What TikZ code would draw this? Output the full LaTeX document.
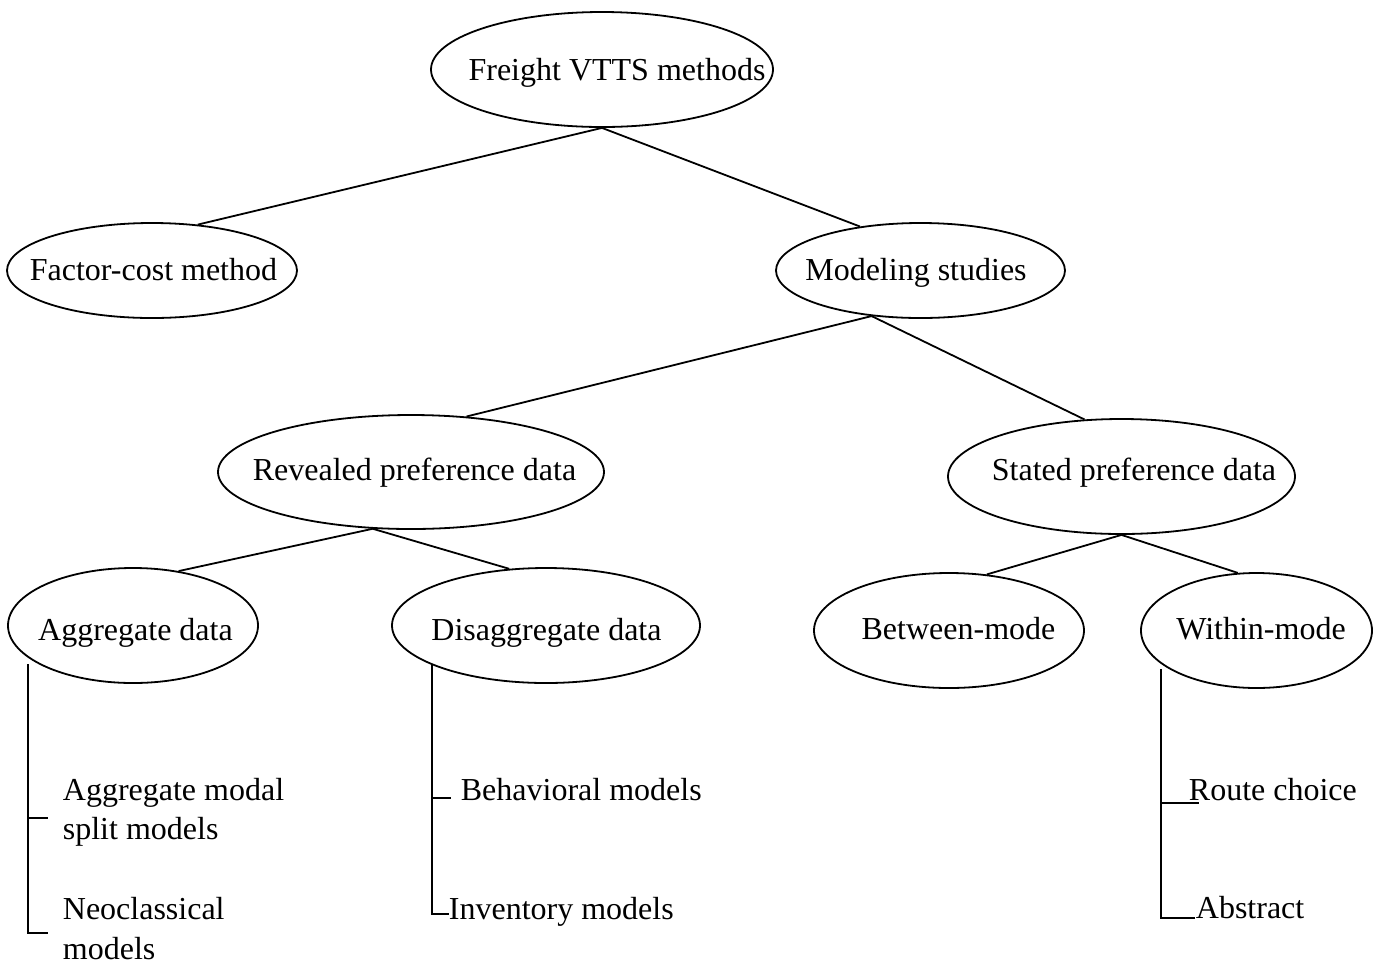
\documentclass[tikz,border=0pt]{standalone}
\usepackage{fontspec}
\setmainfont{Liberation Serif}
\usetikzlibrary{shapes.geometric}
\begin{document}
\begin{tikzpicture}[
  x=0.5pt, y=-0.5pt, line width=0.9pt,
  every node/.style={font=\fontsize{16}{19.75}\selectfont, inner sep=0pt},
  oval/.style={draw, ellipse},
  txt/.style={anchor=base},
  leaf/.style={anchor=base west, align=left}
]
\useasboundingbox (0,0) rectangle (1378,966);
\node[oval, minimum width=171pt, minimum height=57.5pt] (top) at (602,69.5) {};
\node[txt] (toptext) at (617,80) {Freight VTTS methods};
\node[oval, minimum width=145pt, minimum height=47.5pt] (fc) at (152,270.5) {};
\node[txt] (fctext) at (153.5,280) {Factor-cost method};
\node[oval, minimum width=144.5pt, minimum height=47.5pt] (ms) at (920.5,270.5) {};
\node[txt] (mstext) at (916,280) {Modeling studies};
\node[oval, minimum width=193pt, minimum height=57pt] (rev) at (411,472) {};
\node[txt] (revtext) at (414.5,480) {Revealed preference data};
\node[oval, minimum width=173.5pt, minimum height=57.5pt] (sp) at (1121.5,476.5) {};
\node[txt] (sptext) at (1134,480) {Stated preference data};
\node[oval, minimum width=125pt, minimum height=57.5pt] (agg) at (133,625.5) {};
\node[txt] (aggtext) at (135.5,640) {Aggregate data};
\node[oval, minimum width=154pt, minimum height=57.5pt] (dis) at (546,625.5) {};
\node[txt] (distext) at (546.5,640) {Disaggregate data};
\node[oval, minimum width=135pt, minimum height=57.5pt] (bm) at (949,630.5) {};
\node[txt] (bmtext) at (958.5,639) {Between-mode};
\node[oval, minimum width=115.5pt, minimum height=57.5pt] (wm) at (1256.5,630.5) {};
\node[txt] (wmtext) at (1261,639) {Within-mode};

\draw (top.south) -- (fc.45);
\draw (top.south) -- (ms.144);
\draw (ms.223) -- (rev.45);
\draw (ms.223) -- (sp.123);
\draw (rev.236) -- (agg.50);
\draw (rev.236) -- (dis.123);
\draw (sp.south) -- (bm.56);
\draw (sp.south) -- (wm.108);

\node[leaf] (ams) at (62,839.5) {Aggregate modal\\split models};
\node[leaf] (neo) at (62,959) {Neoclassical\\models};
\node[leaf] (beh) at (460,800) {Behavioral models};
\node[leaf] (inv) at (448,919) {Inventory models};
\node[leaf] (rc) at (1188,800) {Route choice};
\node[leaf] (abstr) at (1195,918) {Abstract};

\coordinate (aggv) at (28,664);
\coordinate (aggt1) at (48,818);
\coordinate (aggt2) at (48,933);
\draw (aggv) |- (aggt2);
\draw (aggv |- aggt1) -- (aggt1);
\coordinate (disv) at (432,665);
\coordinate (dist1) at (451,798);
\coordinate (dist2) at (449,914);
\draw (disv) |- (dist2);
\draw (disv |- dist1) -- (dist1);
\coordinate (wmv) at (1161,669);
\coordinate (wmt1) at (1199,803);
\coordinate (wmt2) at (1195,918);
\draw (wmv) |- (wmt2);
\draw (wmv |- wmt1) -- (wmt1);
\end{tikzpicture}
\end{document}
